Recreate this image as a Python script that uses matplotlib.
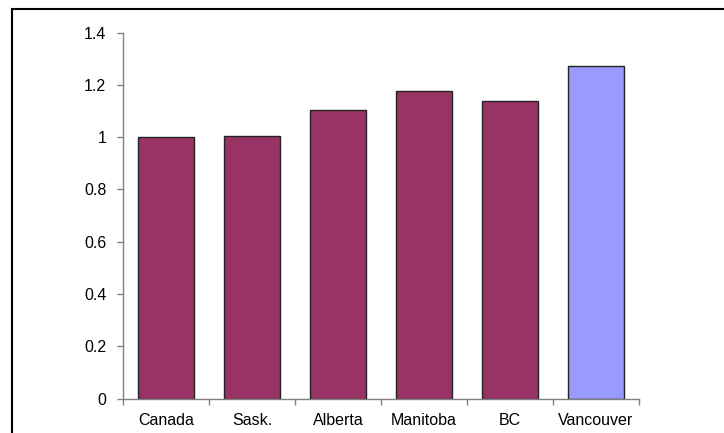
#!/usr/bin/env python3
"""Relative ratio bar chart: Canada, provinces and Vancouver."""

import matplotlib

matplotlib.use("Agg")
import matplotlib.pyplot as plt
from matplotlib.patches import Rectangle

categories = ["Canada", "Sask.", "Alberta", "Manitoba", "BC", "Vancouver"]
values = [1.0, 1.005, 1.105, 1.178, 1.138, 1.272]
bar_colors = ["#993366", "#993366", "#993366", "#993366", "#993366", "#9999FF"]
y_ticks = [0, 0.2, 0.4, 0.6, 0.8, 1.0, 1.2, 1.4]
y_tick_labels = ["0", "0.2", "0.4", "0.6", "0.8", "1", "1.2", "1.4"]

plt.rcParams["font.family"] = ["Liberation Sans", "DejaVu Sans"]
plt.rcParams["font.size"] = 11.5

W, H = 724, 433
fig = plt.figure(figsize=(W / 100, H / 100), dpi=100)
ax = fig.add_axes([123 / W, 1 - 398.7 / H, (639 - 123) / W, (398.7 - 32.6) / H])

x = list(range(len(categories)))
ax.bar(x, values, width=0.66, color=bar_colors, edgecolor="#222222", linewidth=1.0)

ax.set_xlim(-0.5, len(categories) - 0.5)
ax.set_ylim(0, 1.4)
ax.set_yticks(y_ticks)
ax.set_yticklabels(y_tick_labels)
ax.set_xticks(x)
ax.set_xticklabels(categories)
ax.tick_params(axis="x", length=0, pad=10)
ax.set_xticks([i - 0.5 for i in range(len(categories) + 1)], minor=True)
ax.tick_params(axis="x", which="minor", length=4, color="#808080", width=1)
ax.tick_params(axis="y", length=4, color="#808080", width=1, pad=8)

for side in ("top", "right"):
    ax.spines[side].set_visible(False)
for side in ("left", "bottom"):
    ax.spines[side].set_color("#808080")
    ax.spines[side].set_linewidth(1)

# chart-area border (runs off the right and bottom of the picture)
fig.patches.append(
    Rectangle(
        (12 / W, -0.1),
        1.2,
        1.1 - 9 / H,
        transform=fig.transFigure,
        fill=False,
        edgecolor="black",
        linewidth=1.5,
    )
)

fig.savefig("out.png", dpi=100)
